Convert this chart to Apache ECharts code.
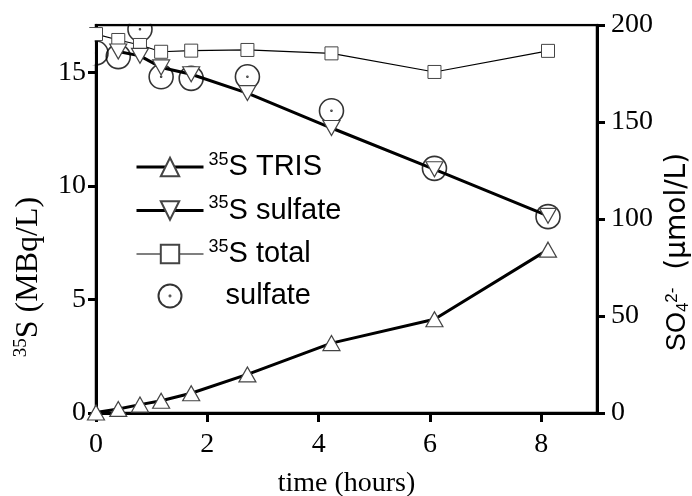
<!DOCTYPE html>
<html><head><meta charset="utf-8">
<script src="https://cdn.jsdelivr.net/npm/echarts@6/dist/echarts.min.js"></script>
<style>html,body{margin:0;padding:0;background:#fff}#c{width:692px;height:496px}</style>
</head><body><div id="c"></div>
<script>
// ---- data ----
const timeHours   = [0, 0.40, 0.79, 1.17, 1.71, 2.72, 4.23, 6.08, 8.12];
const trisMBq     = [0.02, 0.18, 0.37, 0.54, 0.87, 1.70, 3.08, 4.13, 7.20];
const sulfateTime = [0.40, 0.79, 1.17, 1.71, 2.72, 4.23, 6.08, 8.12];
const sulfateMBq  = [15.93, 15.74, 15.23, 14.93, 14.10, 12.56, 10.74, 8.69];
const totalMBq    = [16.7, 16.44, 16.22, 15.92, 15.97, 16.0, 15.85, 15.03, 15.96];
const sulfateUmol = [185.6, 183.7, 197.8, 173.3, 172.5, 173.3, 155.8, 126.1, 101.2];
const xTicks     = [0, 2, 4, 6, 8];
const leftTicks  = [0, 5, 10, 15];
const rightTicks = [0, 50, 100, 150, 200];
const seriesNames = ['35S TRIS', '35S sulfate', '35S total', 'sulfate'];

const pairs = (xs, ys) => xs.map((x, i) => [x, ys[i]]);
const serif = 'Liberation Serif';
const sans = 'Liberation Sans';
const circleDot = 'path://M12,0A12,12,0,1,1,-12,0A12,12,0,1,1,12,0ZM0.5,0A0.5,0.5,0,1,1,-0.5,0A0.5,0.5,0,1,1,0.5,0Z';

const chart = echarts.init(document.getElementById('c'), null, {renderer: 'canvas'});
const tickLabel = {fontFamily: serif, fontSize: 28, color: '#000'};
chart.setOption({
  animation: false,
  backgroundColor: '#fff',
  grid: {left: 96, right: 95, top: 25, bottom: 83, outerBoundsMode: 'none', containLabel: false,
         show: true, borderColor: '#000', borderWidth: 2.5, backgroundColor: 'transparent'},
  xAxis: {
    type: 'value', min: 0, max: 9, interval: 2,
    name: 'time (hours)', nameLocation: 'middle', nameGap: 57,
    nameTextStyle: {fontFamily: serif, fontSize: 28, color: '#000'},
    axisLine: {lineStyle: {color: '#000', width: 3}},
    axisTick: {show: true, inside: false, length: 9, lineStyle: {color: '#000', width: 3}, customValues: xTicks},
    axisLabel: Object.assign({margin: 18, customValues: xTicks}, tickLabel),
    splitLine: {show: false}
  },
  yAxis: [{
    type: 'value', min: 0, max: 17.1, position: 'left',
    name: '{sup|35}{t|S (MBq/L)}', nameLocation: 'middle', nameGap: 50, nameRotate: 90,
    nameTextStyle: {fontFamily: serif, fontSize: 32, color: '#000', padding: [0, 116, 0, 0],
      rich: {sup: {fontFamily: serif, fontSize: 19, verticalAlign: 'top', lineHeight: 20}, t: {fontFamily: serif, fontSize: 32, lineHeight: 34}}},
    axisLine: {show: true, lineStyle: {color: '#000', width: 3}},
    axisTick: {show: true, length: 8, lineStyle: {color: '#000', width: 3}, customValues: leftTicks},
    axisLabel: Object.assign({margin: 10, customValues: leftTicks}, tickLabel),
    splitLine: {show: false}
  }, {
    type: 'value', min: 0, max: 200, position: 'right',
    name: '{so|SO}{sub|4}{sup|2-}{u|  (μmol/L)}', nameLocation: 'middle', nameGap: 53, nameRotate: 90,
    nameTextStyle: {fontFamily: sans, fontSize: 28, color: '#000', padding: [0, 66, 0, 0],
      rich: {so: {fontFamily: sans, fontSize: 27, lineHeight: 28},
             u: {fontFamily: 'DejaVu Sans', fontSize: 28, lineHeight: 28},
             sub: {fontFamily: sans, fontSize: 17, verticalAlign: 'bottom', lineHeight: 17},
             sup: {fontFamily: sans, fontSize: 17, verticalAlign: 'top', lineHeight: 17}}},
    axisLine: {show: true, lineStyle: {color: '#000', width: 3}},
    axisTick: {show: true, length: 8, lineStyle: {color: '#000', width: 3}, customValues: rightTicks},
    axisLabel: Object.assign({margin: 14, customValues: rightTicks}, tickLabel),
    splitLine: {show: false}
  }],
  legend: {
    orient: 'vertical', left: 130, top: 146, itemWidth: 67, itemHeight: 23, itemGap: 13,
    data: [
      {name: seriesNames[0], lineStyle: {width: 3, color: '#000'}},
      {name: seriesNames[1], lineStyle: {width: 3, color: '#000'}},
      {name: seriesNames[2], lineStyle: {width: 1.2, color: '#000'}},
      {name: seriesNames[3]}
    ],
    formatter: n => n.indexOf('35S') === 0 ? '{sup|35}{t|' + n.slice(2) + '}' : '{sp|}{t|' + n + '}',
    textStyle: {fontFamily: sans, fontSize: 29, color: '#000',
      rich: {sup: {fontFamily: sans, fontSize: 18, verticalAlign: 'top', lineHeight: 20},
             t: {fontFamily: sans, fontSize: 29, lineHeight: 32},
             sp: {width: 17}}}
  },
  series: [
    {
      name: seriesNames[3], type: 'scatter', yAxisIndex: 1, z: 2,
      data: pairs(timeHours, sulfateUmol),
      symbol: circleDot, symbolSize: 24, symbolKeepAspect: true,
      itemStyle: {color: 'rgba(255,255,255,0)', borderColor: '#000', borderWidth: 1.6}
    },
    {
      name: seriesNames[2], type: 'line', yAxisIndex: 0, z: 3,
      data: pairs(timeHours, totalMBq),
      symbol: 'rect', symbolSize: 13, showSymbol: true,
      lineStyle: {color: '#000', width: 1.2},
      itemStyle: {color: '#fff', borderColor: '#444', borderWidth: 1}
    },
    {
      name: seriesNames[1], type: 'line', yAxisIndex: 0, z: 4,
      data: pairs(sulfateTime, sulfateMBq),
      symbol: 'triangle', symbolRotate: 180, symbolSize: [17, 15], showSymbol: true,
      lineStyle: {color: '#000', width: 3},
      itemStyle: {color: '#fff', borderColor: '#444', borderWidth: 1.2}
    },
    {
      name: seriesNames[0], type: 'line', yAxisIndex: 0, z: 5,
      data: pairs(timeHours, trisMBq),
      symbol: 'triangle', symbolSize: [17, 15], showSymbol: true,
      lineStyle: {color: '#000', width: 3},
      itemStyle: {color: '#fff', borderColor: '#444', borderWidth: 1.2}
    }
  ],
  graphic: [
    {type: 'rect', z: 100, shape: {x: 80, y: 28, width: 14.7, height: 37.5}, style: {fill: '#fff'}, silent: true},
    {type: 'rect', z: 100, shape: {x: 94, y: 0, width: 506, height: 23.7}, style: {fill: '#fff'}, silent: true}
  ]
});
</script></body></html>
